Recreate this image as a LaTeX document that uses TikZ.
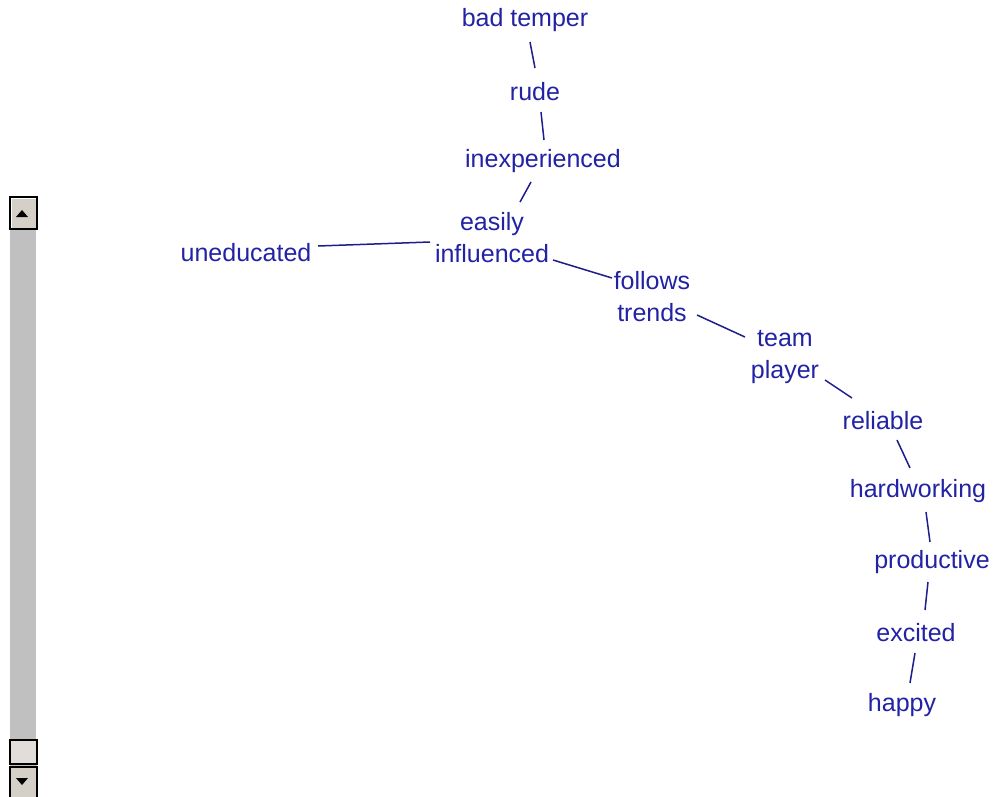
\documentclass[tikz,border=0pt]{standalone}
\usepackage{fontspec}
\setmainfont{Liberation Sans}
\usetikzlibrary{calc}
\definecolor{wordblue}{RGB}{34,34,165}
\definecolor{track}{RGB}{192,192,192}
\definecolor{btn}{RGB}{212,208,200}
\begin{document}
\begin{tikzpicture}[x=1pt,y=-1pt,
  word/.style={text=wordblue,font=\fontsize{25}{32}\selectfont,inner sep=0pt,align=center},
  link/.style={draw=wordblue!85!black,line width=1.5pt},
  sbtn/.style={fill=btn,draw=black,line width=1.2pt}]
\useasboundingbox[fill=white] (0,0) rectangle (994,796);
% scrollbar
\fill[track] (10,197) rectangle (37,796);
\draw[white,line width=1pt] (36,229) -- (36,740);
\draw[sbtn] (10,197) rectangle (37,229);
\draw[white,line width=1pt] (11,228) -- (11,198) -- (36,198);
\fill[black] (16,217) -- (28,217) -- (22,210) -- cycle;
\draw[fill=btn!70!white,draw=black,line width=1.2pt] (10,740) rectangle (37,764);
\draw[sbtn] (10,767) rectangle (37,800);
\fill[black] (16,778) -- (28,778) -- (22,785) -- cycle;
% words
\node[word] (bt) at (525,20) {bad temper};
\node[word] (rude) at (535,92) {rude};
\node[word] (inex) at (543,161) {inexperienced};
\node[word] (ei) at (492,238) {easily\\influenced};
\node[word] (unedu) at (246,253) {uneducated};
\node[word] (ft) at (652,297) {follows\\trends};
\node[word] (tp) at (785,357) {team\\player};
\node[word] (rel) at (883,421) {reliable};
\node[word] (hard) at (918,491) {hardworking};
\node[word] (prod) at (932,562) {productive};
\node[word] (exc) at (916,633) {excited};
\node[word] (happy) at (902,705) {happy};
% links
\draw[link] ($(bt)+(5,22)$) -- ($(rude)+(0,-24)$);
\draw[link] ($(rude)+(6,20)$) -- ($(inex)+(1,-21)$);
\draw[link] ($(inex)+(-12,21)$) -- ($(ei)+(28,-36)$);
\draw[link] ($(unedu)+(72,-7)$) -- ($(ei)+(-62,4)$);
\draw[link] ($(ei)+(61,22)$) -- ($(ft)+(-40,-19)$);
\draw[link] ($(ft)+(45,18)$) -- ($(tp)+(-40,-20)$);
\draw[link] ($(tp)+(40,23)$) -- ($(rel)+(-31,-23)$);
\draw[link] ($(rel)+(14,19)$) -- ($(hard)+(-8,-23)$);
\draw[link] ($(hard)+(8,21)$) -- ($(prod)+(-2,-20)$);
\draw[link] ($(prod)+(-4,20)$) -- ($(exc)+(9,-23)$);
\draw[link] ($(exc)+(-1,20)$) -- ($(happy)+(8,-22)$);
\end{tikzpicture}
\end{document}
